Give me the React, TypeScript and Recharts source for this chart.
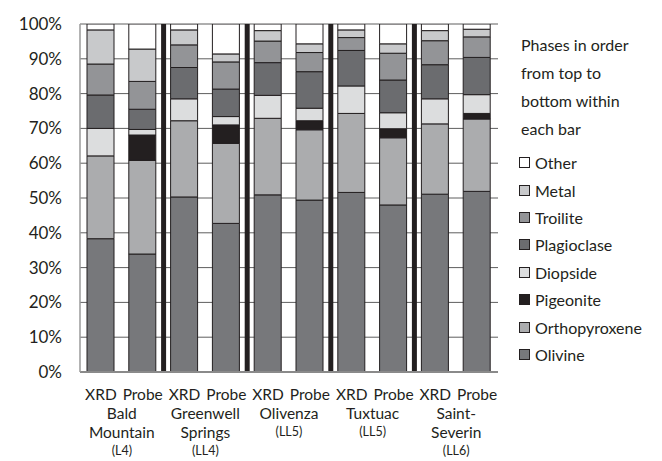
import { Bar, BarChart, CartesianGrid, ReferenceLine, XAxis, YAxis } from "recharts";

// one XRD and one microprobe estimate per meteorite
const methods = ["XRD", "Probe", "XRD", "Probe", "XRD", "Probe", "XRD", "Probe", "XRD", "Probe"];
const sampleNames = [
  ["Bald", "Mountain"],
  ["Greenwell", "Springs"],
  ["Olivenza"],
  ["Tuxtuac"],
  ["Saint-", "Severin"],
];
const sampleClasses = ["(L4)", "(LL4)", "(LL5)", "(LL5)", "(LL6)"];

// phase abundances, percent of each bar
const olivine = [38.3, 33.9, 50.3, 42.7, 50.9, 49.4, 51.6, 48.0, 51.1, 51.9];
const orthopyroxene = [23.8, 26.9, 21.9, 23.0, 22.0, 20.2, 22.7, 19.3, 20.2, 20.8];
const pigeonite = [0, 7.3, 0, 5.3, 0, 2.6, 0, 2.6, 0, 1.6];
const diopside = [7.9, 1.6, 6.3, 2.4, 6.6, 3.6, 7.9, 4.6, 7.2, 5.4];
const plagioclase = [9.6, 5.8, 9.0, 7.9, 9.4, 10.5, 10.2, 9.4, 9.8, 10.7];
const troilite = [8.9, 8.0, 6.5, 7.8, 6.2, 5.5, 3.7, 7.7, 6.9, 5.9];
const metal = [9.8, 9.3, 4.3, 2.3, 3.0, 2.5, 2.2, 2.7, 2.9, 2.2];
const other = [1.7, 7.2, 1.7, 8.6, 1.9, 5.7, 1.7, 5.7, 1.9, 1.5];

const yTicks = [0, 10, 20, 30, 40, 50, 60, 70, 80, 90, 100];

// bottom of the stack first
const phases = [
  { key: "Olivine", values: olivine, color: "#77787b" },
  { key: "Orthopyroxene", values: orthopyroxene, color: "#abacae" },
  { key: "Pigeonite", values: pigeonite, color: "#231f20" },
  { key: "Diopside", values: diopside, color: "#dcddde" },
  { key: "Plagioclase", values: plagioclase, color: "#6b6c6f" },
  { key: "Troilite", values: troilite, color: "#939497" },
  { key: "Metal", values: metal, color: "#c8c9cb" },
  { key: "Other", values: other, color: "#ffffff" },
];

const data = methods.map((method, i) => {
  const row: Record<string, string | number> = { cat: `${method}-${Math.floor(i / 2)}`, method };
  phases.forEach((p) => {
    row[p.key] = p.values[i];
  });
  return row;
});

const FONT = "Lato, 'Open Sans', sans-serif";
const INK = "#231f20";

function CategoryTick(props: any) {
  const { x, y, payload, index } = props;
  const method = methods[index];
  const half = payload?.offset ?? 21;
  const group = Math.floor(index / 2);
  const lines = method === "Probe" ? sampleNames[group] : [];
  const cx = x - half;
  return (
    <g fill="#231f20" fontFamily={FONT}>
      <text x={x} y={y + 14} fontSize={15.5} textAnchor="middle" dominantBaseline="central">
        {method}
      </text>
      {lines.map((line, k) => (
        <text
          key={line}
          x={cx}
          y={y + 33 + k * 19}
          fontSize={15.5}
          textAnchor="middle"
          dominantBaseline="central"
        >
          {line}
        </text>
      ))}
      {method === "Probe" && (
        <text
          x={cx}
          y={y + 33 + lines.length * 19 - 1}
          fontSize={12.5}
          textAnchor="middle"
          dominantBaseline="central"
        >
          {sampleClasses[group]}
        </text>
      )}
    </g>
  );
}

function PhaseLegend() {
  const items = [...phases].reverse();
  return (
    <div
      style={{
        position: "absolute",
        left: 513,
        top: 23,
        fontFamily: FONT,
        fontSize: 16,
        color: INK,
      }}
    >
      <div style={{ lineHeight: "28px", width: 140 }}>
        Phases in order
        <br />
        from top to
        <br />
        bottom within
        <br />
        each bar
      </div>
      <div style={{ marginTop: 6 }}>
        {items.map((p) => (
          <div key={p.key} style={{ display: "flex", alignItems: "center", height: 27.4 }}>
            <span
              style={{
                width: 9,
                height: 9,
                background: p.color,
                border: `1px solid ${INK}`,
                marginRight: 5,
                marginLeft: -2,
              }}
            />
            <span>{p.key}</span>
          </div>
        ))}
      </div>
    </div>
  );
}

export default function App() {
  return (
    <div style={{ position: "relative", width: 654, height: 453, background: "#fff" }}>
      <BarChart
        width={654}
        height={453}
        data={data}
        margin={{ top: 16, right: 164, bottom: 0, left: 0 }}
        barSize={27}
      >
        <CartesianGrid vertical={false} stroke="#5e5e5e" strokeWidth={1} />
        <XAxis
          dataKey="cat"
          interval={0}
          height={89}
          tickLine={false}
          axisLine={{ stroke: "#8a8a8a", strokeWidth: 2 }}
          tick={<CategoryTick />}
        />
        <YAxis
          width={72}
          domain={[0, 100]}
          ticks={yTicks}
          allowDataOverflow
          tickFormatter={(v) => `${v}%`}
          tickLine={false}
          tickSize={0}
          tickMargin={18}
          axisLine={{ stroke: "#9a9a9a", strokeWidth: 1.5 }}
          tick={{ fill: INK, fontSize: 17, fontFamily: FONT }}
        />
        <YAxis
          yAxisId="edge"
          orientation="right"
          width={0}
          tick={false}
          tickLine={false}
          axisLine={{ stroke: "#a0a0a0", strokeWidth: 1 }}
        />
        {phases.map((p) => (
          <Bar
            key={p.key}
            dataKey={p.key}
            stackId="phases"
            fill={p.color}
            stroke={INK}
            strokeWidth={1}
            isAnimationActive={false}
          />
        ))}
        {data
          .filter((d, i) => d.method === "Probe" && i < data.length - 1)
          .map((d) => (
            <ReferenceLine
              key={String(d.cat)}
              x={d.cat}
              position="end"
              stroke={INK}
              strokeWidth={5}
            />
          ))}
      </BarChart>
      <PhaseLegend />
    </div>
  );
}
